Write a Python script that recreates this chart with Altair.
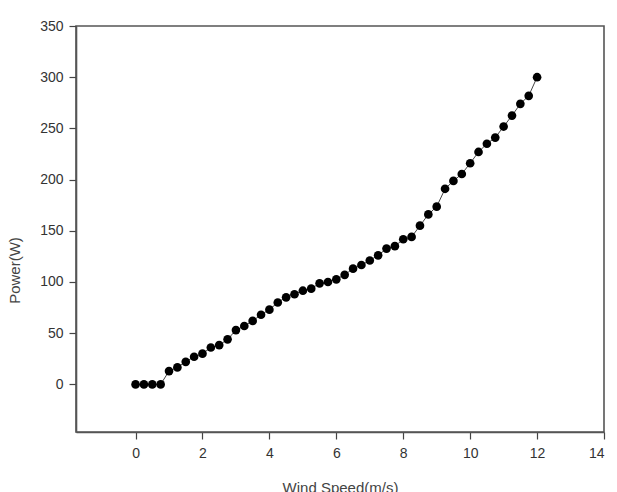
import altair as alt
import pandas as pd

wind_speed = [0, 0.25, 0.5, 0.75, 1.0, 1.25, 1.5, 1.75, 2.0, 2.25, 2.5, 2.75,
              3.0, 3.25, 3.5, 3.75, 4.0, 4.25, 4.5, 4.75, 5.0, 5.25, 5.5, 5.75,
              6.0, 6.25, 6.5, 6.75, 7.0, 7.25, 7.5, 7.75, 8.0, 8.25, 8.5, 8.75,
              9.0, 9.25, 9.5, 9.75, 10.0, 10.25, 10.5, 10.75, 11.0, 11.25, 11.5,
              11.75, 12.0]
power = [0, 0, 0, 0, 13, 16.6, 22, 27, 30, 36, 38.4, 44,
         53, 57, 62, 68, 73, 80, 85, 88, 91.5, 93.5, 98.7, 100,
         102.6, 107, 113, 116.6, 121, 126, 132.6, 135, 141.7, 144, 155, 166,
         173.6, 191, 198.7, 205.5, 216, 227, 235, 241, 251.8, 262.5, 274,
         281.8, 300]

x_ticks = [0, 2, 4, 6, 8, 10, 12, 14]
y_ticks = [0, 50, 100, 150, 200, 250, 300, 350]

df = pd.DataFrame({"ws": wind_speed, "p": power})

axis_style = dict(grid=False, tickSize=7, labelFontSize=14, titleFontSize=15,
                  titleFontWeight="normal", labelColor="#333", titleColor="#444",
                  domainColor="#555", domainWidth=1.6, tickColor="#444", tickWidth=1.2,
                  labelFont="Liberation Sans", titleFont="Liberation Sans")

x_enc = alt.X("ws:Q", title="Wind Speed(m/s)",
              scale=alt.Scale(domain=[-1.78, 14], nice=False, zero=False),
              axis=alt.Axis(values=x_ticks, labelPadding=7, titleBaseline="top",
                            titleY=48, **axis_style))
y_enc = alt.Y("p:Q", title="Power(W)",
              scale=alt.Scale(domain=[-46.5, 350], nice=False, zero=False),
              axis=alt.Axis(values=y_ticks, labelPadding=6, titleX=-54, titleY=244,
                            **axis_style))

line = alt.Chart(df).mark_line(color="#444", strokeWidth=1).encode(x=x_enc, y=y_enc)
pts = alt.Chart(df).mark_point(filled=True, color="black", size=75, opacity=1).encode(x=x_enc, y=y_enc)

chart = (line + pts).properties(
    width=528, height=406,
    background="white",
    autosize=alt.AutoSizeParams(type="none"),
    padding={"left": 76, "top": 26, "right": 13, "bottom": 60},
).configure_view(stroke="#555", strokeWidth=1.6)

chart.save("out.html", embed_options={"renderer": "svg", "actions": False})
